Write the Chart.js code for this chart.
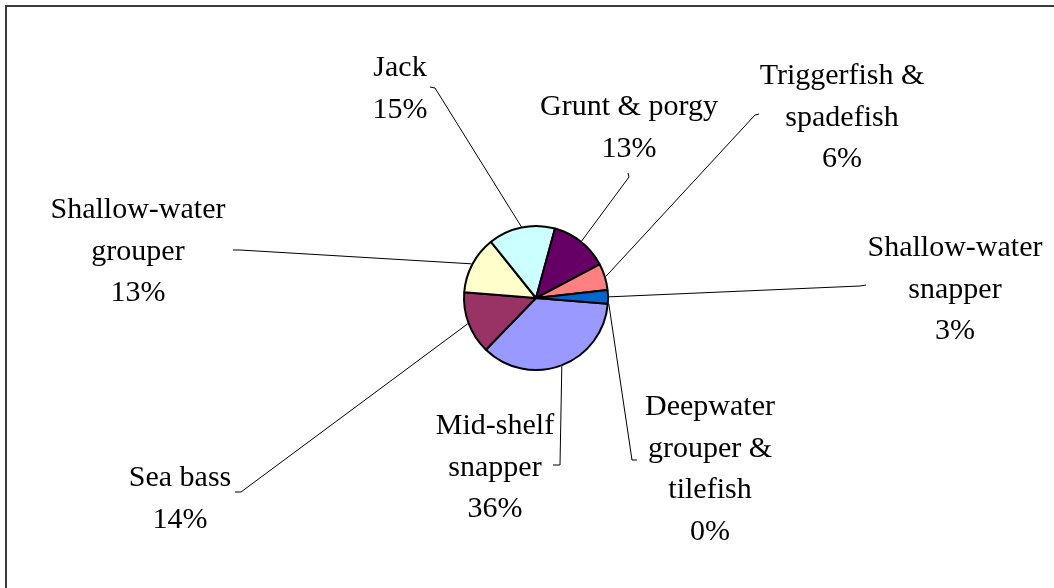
<!DOCTYPE html>
<html>
<head>
<meta charset="utf-8">
<title>Fish landings by species group</title>
<script src="https://cdn.jsdelivr.net/npm/chart.js@4/dist/chart.umd.min.js"></script>
<style>
  html, body { margin: 0; padding: 0; background: #fff; }
  #wrap { position: relative; width: 1054px; height: 588px; overflow: hidden; }
  #frame { position: absolute; left: 5px; top: 5px; width: 1200px; height: 800px;
           border-left: 2px solid #3a3a3a; border-top: 2px solid #3a3a3a; }
  canvas { position: absolute; left: 0; top: 0; }
</style>
</head>
<body>
<div id="wrap">
  <div id="frame"></div>
  <canvas id="chart" width="1054" height="588"></canvas>
</div>
<script>
// Species groups, in drawing order (clockwise from the first slice)
const categories = [
  ["Mid-shelf", "snapper"],
  ["Sea bass"],
  ["Shallow-water", "grouper"],
  ["Jack"],
  ["Grunt & porgy"],
  ["Triggerfish &", "spadefish"],
  ["Shallow-water", "snapper"],
  ["Deepwater", "grouper &", "tilefish"]
];
// Share of landings, percent
const shares = [36, 14, 13, 15, 13, 6, 3, 0];
const sliceColors = ["#9999FF", "#993366", "#FFFFCC", "#CCFFFF", "#660066", "#FF8080", "#0066CC", "#CCCCFF"];

// Label placement: text centre x and first baseline y
const labelAnchors = [
  [495, 434], [180, 486], [138, 218], [400, 76],
  [629, 115], [842, 84], [955, 256], [710, 415]
];
// Leader line: elbow point, then short tick ending at the label
const leaderPaths = [
  [[560, 465], [553, 465]],
  [[241, 492], [235, 492]],
  [[240, 250], [233, 250]],
  [[435, 88], [430, 87]],
  [[629, 177], [628, 173]],
  [[755, 115], [759, 114]],
  [[860, 286], [866, 285]],
  [[632, 460], [637, 460]]
];

const FONT = '30px "Liberation Serif", "Times New Roman", serif';
const LINE_GAP = 41.5;

const calloutPlugin = {
  id: 'callouts',
  afterDatasetsDraw(chart) {
    const ctx = chart.ctx;
    const arcs = chart.getDatasetMeta(0).data;
    ctx.save();
    // leader lines from slice edge midpoints
    ctx.strokeStyle = '#000';
    ctx.lineWidth = 1;
    arcs.forEach((arc, i) => {
      const p = arc.getProps(['x', 'y', 'startAngle', 'endAngle', 'outerRadius'], true);
      const mid = (p.startAngle + p.endAngle) / 2;
      const r = p.outerRadius + 1;
      const sx = p.x + Math.cos(mid) * r;
      const sy = p.y + Math.sin(mid) * r;
      ctx.beginPath();
      ctx.moveTo(sx, sy);
      leaderPaths[i].forEach(pt => ctx.lineTo(pt[0], pt[1]));
      ctx.stroke();
    });
    // labels: name lines plus percentage
    ctx.fillStyle = '#000';
    ctx.font = FONT;
    ctx.textAlign = 'center';
    ctx.textBaseline = 'alphabetic';
    categories.forEach((lines, i) => {
      const all = lines.concat([shares[i] + '%']);
      const [cx, by] = labelAnchors[i];
      all.forEach((t, k) => ctx.fillText(t, cx, by + k * LINE_GAP));
    });
    ctx.restore();
  }
};

new Chart(document.getElementById('chart'), {
  type: 'pie',
  data: {
    labels: categories.map(l => l.join(' ')),
    datasets: [{
      data: shares,
      backgroundColor: sliceColors,
      borderColor: '#000',
      borderWidth: 2
    }]
  },
  options: {
    responsive: false,
    animation: false,
    rotation: 94.5,
    layout: { padding: { left: 463, right: 445, top: 225, bottom: 217 } },
    plugins: { legend: { display: false }, tooltip: { enabled: false } },
    events: []
  },
  plugins: [calloutPlugin]
});
</script>
</body>
</html>
